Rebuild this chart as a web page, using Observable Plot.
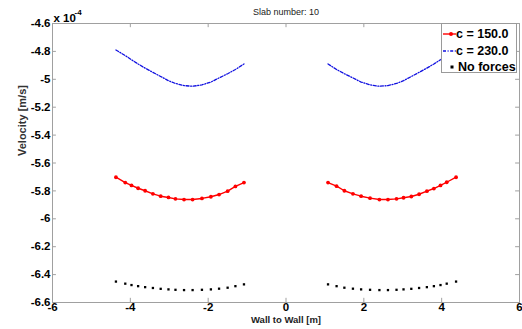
<!DOCTYPE html>
<html><head><meta charset="utf-8">
<script src="https://cdn.jsdelivr.net/npm/d3@7"></script>
<script src="https://cdn.jsdelivr.net/npm/@observablehq/plot@0.6"></script>
<style>
html,body{margin:0;padding:0;background:#fff}
#wrap{position:relative;width:522px;height:329px;overflow:hidden}
#legend{position:absolute;left:441px;top:23px;width:76px;height:50px;border:1px solid #9a9a9a;background:#fff;box-sizing:border-box;font:bold 12.5px "Liberation Sans",Arial,sans-serif;color:#000}
#legend .row{position:absolute;left:0;height:16px;line-height:16px;white-space:nowrap}
#legend svg{position:absolute;left:0;top:0}
#legend span{position:absolute;left:14px;top:0}
</style></head><body><div id="wrap"></div>
<script>
const title = "Slab number: 10";
const xLabel = "Wall to Wall [m]";
const yLabel = "Velocity [m/s]";
const yScaleBase = "x 10";
const yScaleExp = "-4";
const xTicks = [-6, -4, -2, 0, 2, 4, 6];
const yTicks = [-6.6, -6.4, -6.2, -6, -5.8, -5.6, -5.4, -5.2, -5, -4.8, -4.6];
const seriesNames = ["c = 150.0", "c = 230.0", "No forces"];

// positions across the slab (m)
const xLeft  = [-4.37, -4.13, -3.97, -3.80, -3.62, -3.42, -3.22, -3.02, -2.84, -2.62, -2.40, -2.16, -1.93, -1.72, -1.50, -1.30, -1.08];
const xRight = [1.08, 1.30, 1.50, 1.72, 1.93, 2.16, 2.40, 2.62, 2.84, 3.02, 3.22, 3.42, 3.62, 3.80, 3.97, 4.13, 4.37];

// velocities in units of 1e-4 m/s
const c150Left  = [-5.702, -5.740, -5.761, -5.781, -5.799, -5.821, -5.838, -5.847, -5.857, -5.862, -5.862, -5.854, -5.842, -5.826, -5.802, -5.768, -5.740];
const c150Right = [-5.740, -5.766, -5.799, -5.821, -5.838, -5.852, -5.862, -5.862, -5.857, -5.849, -5.840, -5.824, -5.802, -5.783, -5.761, -5.738, -5.702];
const c230Left  = [-4.79, -4.83, -4.86, -4.89, -4.92, -4.95, -4.98, -5.01, -5.03, -5.045, -5.05, -5.04, -5.02, -4.99, -4.96, -4.93, -4.89];
const c230Right = [-4.89, -4.93, -4.96, -4.99, -5.02, -5.04, -5.05, -5.045, -5.03, -5.01, -4.98, -4.95, -4.92, -4.89, -4.86, -4.83, -4.79];
const noForceLeft  = [-6.450, -6.465, -6.475, -6.483, -6.490, -6.496, -6.502, -6.506, -6.509, -6.511, -6.511, -6.509, -6.506, -6.501, -6.494, -6.483, -6.470];
const noForceRight = [-6.470, -6.483, -6.494, -6.501, -6.506, -6.509, -6.511, -6.511, -6.509, -6.506, -6.502, -6.496, -6.490, -6.483, -6.475, -6.465, -6.450];

function rows(left, right) {
  return [
    ...xLeft.map((x, i) => ({x, v: left[i], side: "L"})),
    ...xRight.map((x, i) => ({x, v: right[i], side: "R"}))
  ];
}
const c150 = rows(c150Left, c150Right);
const c230 = rows(c230Left, c230Right);
const noForce = rows(noForceLeft, noForceRight);

const fmt = d => String(+d.toFixed(1));
const xMin = xTicks[0], xMax = xTicks[xTicks.length - 1];
const yMin = yTicks[0], yMax = yTicks[yTicks.length - 1];
const axisColor = "#a0a0a0";
const font = "Liberation Sans, Arial, sans-serif";

const chart = Plot.plot({
  width: 522, height: 329,
  marginLeft: 52, marginRight: 3, marginTop: 23, marginBottom: 27,
  x: {domain: [xMin, xMax]},
  y: {domain: [yMin, yMax]},
  style: {fontFamily: font, fontSize: "11.5px", fontWeight: "bold", color: "#000", background: "#fff"},
  marks: [
    Plot.frame({stroke: axisColor}),
    Plot.ruleX(xTicks.slice(1, -1), {y1: yMin, y2: yMin + 0.03, stroke: axisColor}),
    Plot.ruleX(xTicks.slice(1, -1), {y1: yMax, y2: yMax - 0.03, stroke: axisColor}),
    Plot.ruleY(yTicks.slice(1, -1), {x1: xMin, x2: xMin + 0.1, stroke: axisColor}),
    Plot.ruleY(yTicks.slice(1, -1), {x1: xMax, x2: xMax - 0.1, stroke: axisColor}),
    Plot.axisX(xTicks, {tickSize: 0, tickPadding: 0, tickFormat: fmt, label: null}),
    Plot.axisY(yTicks, {tickSize: 0, tickPadding: 2, tickFormat: fmt, label: null}),
    Plot.line(c230, {x: "x", y: "v", z: "side", stroke: "#1010e0", strokeWidth: 1.3, strokeDasharray: "3,1.6,1,1.6"}),
    Plot.line(c150, {x: "x", y: "v", z: "side", stroke: "#ff0000", strokeWidth: 1.4}),
    Plot.dot(c150, {x: "x", y: "v", r: 1.9, fill: "#ff0000"}),
    Plot.dot(noForce, {x: "x", y: "v", symbol: "square", r: 1.3, fill: "#000"}),
    Plot.text([title], {frameAnchor: "top", dy: -15, fontSize: 9, fontWeight: "normal", fill: "#222"}),
    Plot.text([xLabel], {frameAnchor: "bottom", dy: 20, fontSize: 9.5, fill: "#222"}),
    Plot.text([yLabel], {frameAnchor: "left", dx: -30, dy: -7, rotate: -90, fontSize: 11, fill: "#333"}),
    Plot.text([yScaleBase], {frameAnchor: "top-left", dx: 1, dy: -2, textAnchor: "start", lineAnchor: "bottom", fontSize: 11.5}),
    Plot.text([yScaleExp], {frameAnchor: "top-left", dx: 22, dy: -9, textAnchor: "start", lineAnchor: "bottom", fontSize: 8})
  ]
});

const wrap = document.getElementById("wrap");
wrap.appendChild(chart);

// legend (top-right box)
const legend = document.createElement("div");
legend.id = "legend";
const styles = [
  {stroke: "#ff0000", dash: null, marker: "circle", color: "#ff0000"},
  {stroke: "#1010e0", dash: "3,1.6,1,1.6", marker: null, color: "#1010e0"},
  {stroke: null, dash: null, marker: "square", color: "#000"}
];
seriesNames.forEach((name, i) => {
  const s = styles[i];
  const row = document.createElement("div");
  row.className = "row";
  row.style.top = (2 + i * 16.5) + "px";
  row.style.width = "74px";
  let svg = '<svg width="16" height="16">';
  if (s.stroke) svg += `<line x1="1" x2="14" y1="8" y2="8" stroke="${s.stroke}" stroke-width="1.4"${s.dash ? ` stroke-dasharray="${s.dash}"` : ""}/>`;
  if (s.marker === "circle") svg += `<circle cx="9" cy="8" r="2" fill="${s.color}"/>`;
  if (s.marker === "square") svg += `<rect x="8.5" y="6.5" width="3" height="3" fill="${s.color}"/>`;
  svg += '</svg>';
  row.innerHTML = svg + `<span${i === 2 ? ' style="left:16px"' : ''}>${name}</span>`;
  legend.appendChild(row);
});
wrap.appendChild(legend);
</script>
</body></html>
